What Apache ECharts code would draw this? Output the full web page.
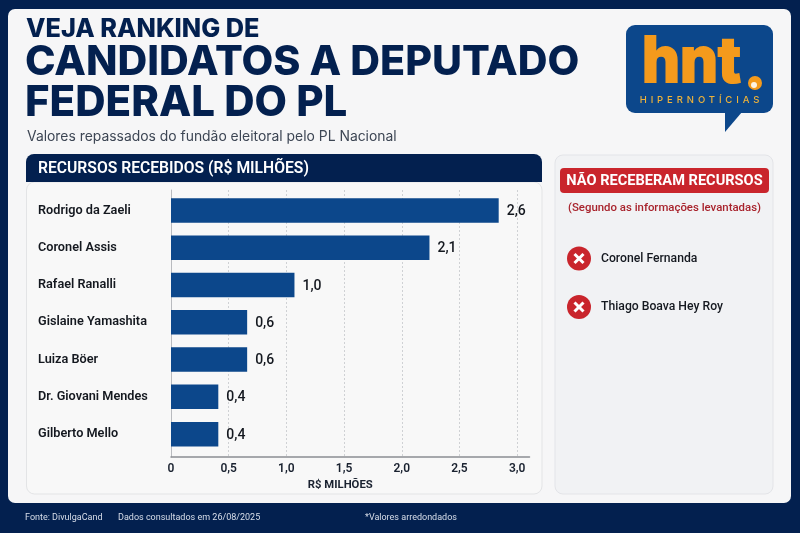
<!DOCTYPE html>
<html><head><meta charset="utf-8">
<style>html,body{margin:0;padding:0;background:#03204f}#c{width:800px;height:533px}</style>
<script src="https://cdn.jsdelivr.net/npm/echarts@6/dist/echarts.min.js"></script>
</head><body><div id="c"></div>
<script>
const categories=["Rodrigo da Zaeli","Coronel Assis","Rafael Ranalli","Gislaine Yamashita","Luiza Böer","Dr. Giovani Mendes","Gilberto Mello"];
const barLengths=[2.84,2.24,1.07,0.66,0.66,0.41,0.41];
const valueLabels=["2,6","2,1","1,0","0,6","0,6","0,4","0,4"];
const semRecursos=["Coronel Fernanda","Thiago Boava Hey Roy"];
const NAVY='#03204f',BLUE='#0c478b',RED='#c9252c',F='Inter, "Noto Sans", sans-serif',N='"Roboto", "Liberation Sans", sans-serif';
const LOGO_TAG='HIPERNOTÍCIAS';
const origFill=CanvasRenderingContext2D.prototype.fillText;
CanvasRenderingContext2D.prototype.fillText=function(t,x,y,m){
 if(t===LOGO_TAG){
  this.save();
  this.letterSpacing='3.9px';
  origFill.call(this,t,x,y);
  this.restore();
  return;
 }
 if(m===undefined)origFill.call(this,t,x,y);else origFill.call(this,t,x,y,m);
};
const chart=echarts.init(document.getElementById('c'),null,{renderer:'canvas'});
const txt=(x,y,text,size,weight,fill,extra={})=>({type:'text',x,y,z:20,style:Object.assign({text,fontSize:size,fontWeight:weight,fill,fontFamily:F,verticalAlign:'middle'},extra)});
const rect=(x,y,w,h,r,fill,stroke,z=1)=>({type:'rect',z,shape:{x,y,width:w,height:h,r},style:{fill,stroke:stroke||null,lineWidth:stroke?1:0}});
const elements=[
 rect(8,9,783,494,7,'#f6f6f7'),
 txt(26,29,'VEJA RANKING DE',25.3,800,NAVY),
 txt(25,63,'CANDIDATOS A DEPUTADO',41.2,800,NAVY),
 txt(25,103,'FEDERAL DO PL',42,800,NAVY),
 txt(27,137,'Valores repassados do fundão eleitoral pelo PL Nacional',13.9,400,'#3d4654'),
 rect(26.5,182,515.5,312,8,'#f8f8f8','#e3e4e6'),
 rect(26,154,516,28,[8,8,0,0],NAVY,null,3),
 txt(38,169,'RECURSOS RECEBIDOS (R$ MILHÕES)',15.7,600,'#ffffff',{fontFamily:N}),
 rect(555,155,218,339,8,'#f1f2f4','#e3e4e8'),
 rect(560,168,209,25,4,RED),
 txt(664.5,181,'NÃO RECEBERAM RECURSOS',14.6,700,'#ffffff',{fontFamily:N,align:'center'}),
 txt(664.5,208,'(Segundo as informações levantadas)',11.4,500,'#a8232c',{fontFamily:N,align:'center'}),
 txt(25,518,'Fonte: DivulgaCand',9,400,'#d8deea',{fontFamily:N}),
 txt(118,518,'Dados consultados em 26/08/2025',9,400,'#d8deea',{fontFamily:N}),
 txt(365,518,'*Valores arredondados',9,400,'#d8deea',{fontFamily:N}),
 rect(626,25,147,88,9,BLUE,null,5),
 {type:'polygon',z:5,shape:{points:[[725,112],[725,132],[742,112]]},style:{fill:BLUE}},
 Object.assign(txt(642,63,'hnt',63,800,'#f49a1c',{stroke:'#f49a1c',lineWidth:2,lineJoin:'round'}),{scaleX:0.95}),
 {type:'circle',z:21,shape:{cx:755,cy:83,r:7},style:{fill:'#f49a1c'}},
 {type:'circle',z:22,shape:{cx:754,cy:85,r:3},style:{fill:'#fdf3e4'}},
 txt(701.5,100,LOGO_TAG,9.5,500,'#eeb23a',{align:'center'})
];
semRecursos.forEach((name,i)=>{
 const y=[258.5,307][i];
 elements.push({type:'circle',z:10,shape:{cx:579,cy:y,r:12},style:{fill:RED}});
 elements.push({type:'line',z:11,shape:{x1:574.5,y1:y-4.5,x2:583.5,y2:y+4.5},style:{stroke:'#fff',lineWidth:3}});
 elements.push({type:'line',z:11,shape:{x1:583.5,y1:y-4.5,x2:574.5,y2:y+4.5},style:{stroke:'#fff',lineWidth:3}});
 elements.push(txt(601,y,name,12.2,500,'#14181f',{fontFamily:N}));
});
const xMax=3.107;
chart.setOption({
 animation:false,
 backgroundColor:NAVY,
 graphic:{elements},
 grid:[
  {left:171,top:190,width:358.5,height:267,z:10},
  {left:171,top:191.8,width:358.5,height:261,z:10}
 ],
 xAxis:[
  {gridIndex:0,type:'value',min:0,max:xMax,interval:0.5,z:10,
   axisLine:{show:true,lineStyle:{color:'#8a8d92',width:1.5}},
   axisTick:{show:false},
   splitLine:{show:true,showMaxLine:false,showMinLine:false,lineStyle:{color:'#cfd1d4',type:[2,2],width:1}},
   axisLabel:{show:true,showMaxLabel:false,margin:6,fontSize:12,fontWeight:600,color:'#1a2230',fontFamily:N,formatter:v=>v===0?'0':v.toFixed(1).replace('.',',')},
   name:'R$ MILHÕES',nameLocation:'middle',nameGap:23,nameTextStyle:{fontSize:11.3,fontWeight:700,color:'#1a2230',fontFamily:N,padding:[0,20,0,0]}},
  {gridIndex:1,type:'value',min:0,max:xMax,interval:0.5,show:false}
 ],
 yAxis:[
  {gridIndex:0,type:'value',min:0,max:1,z:10,axisLine:{show:true,onZero:false,lineStyle:{color:'#b9bbbf',width:1}},axisTick:{show:false},axisLabel:{show:false},splitLine:{show:false}},
  {gridIndex:1,type:'category',inverse:true,data:categories,z:10,
   axisLine:{show:false},axisTick:{show:false},
   axisLabel:{show:true,align:'left',margin:133,fontSize:12.7,fontWeight:600,color:'#14181f',fontFamily:N}}
 ],
 series:[{type:'bar',xAxisIndex:1,yAxisIndex:1,z:10,data:barLengths,barWidth:24.5,itemStyle:{color:BLUE},
  label:{show:true,position:'right',distance:8,offset:[0,1],fontSize:14,fontWeight:500,color:'#14181f',fontFamily:N,formatter:p=>valueLabels[p.dataIndex]}}]
});
</script></body></html>
